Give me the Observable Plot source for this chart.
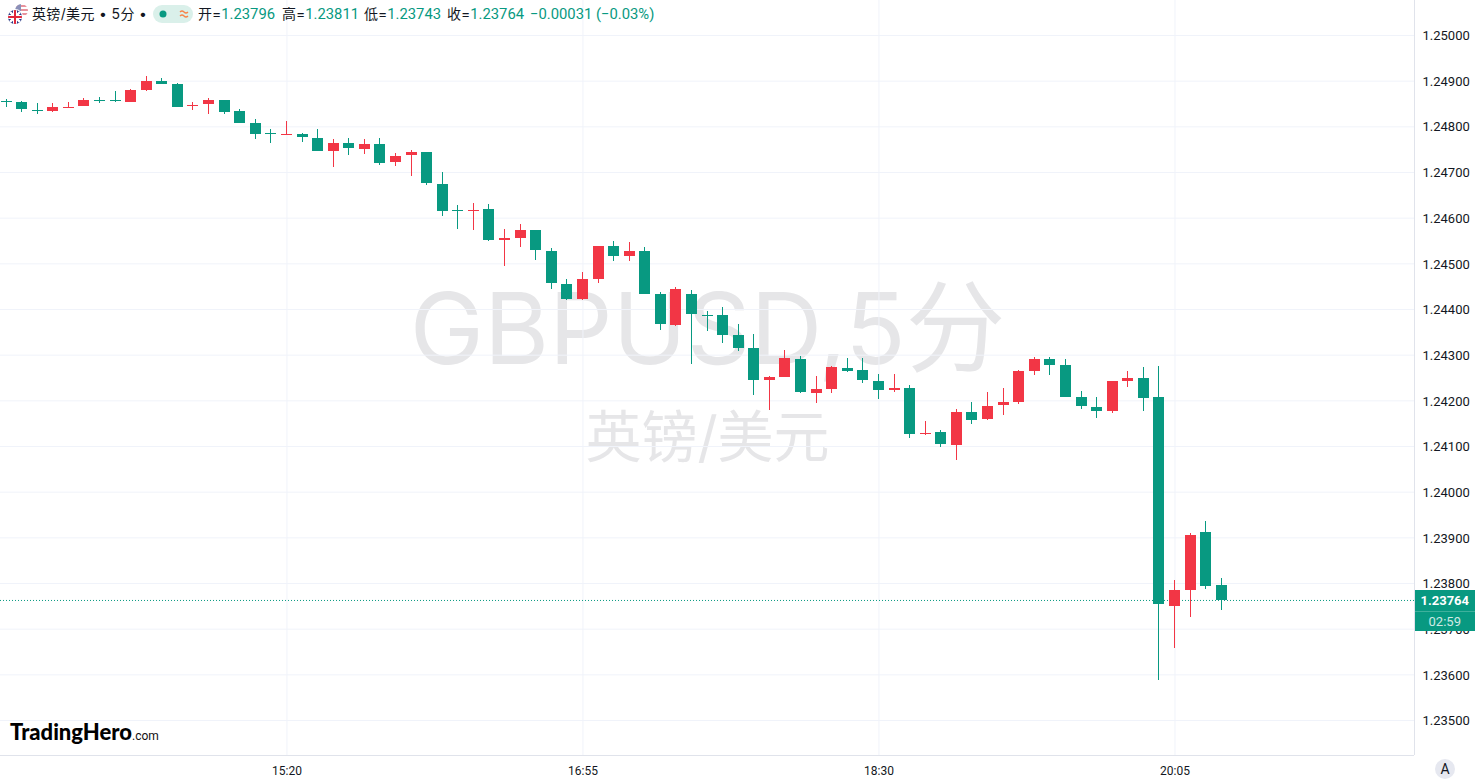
<!DOCTYPE html>
<html><head><meta charset="utf-8">
<script src="https://cdn.jsdelivr.net/npm/d3@7"></script>
<script src="https://cdn.jsdelivr.net/npm/@observablehq/plot@0.6"></script>
<style>
html,body{margin:0;padding:0;background:#fff;overflow:hidden;width:1475px;height:784px}
#wrap{position:relative;width:1475px;height:784px;font-family:Roboto,"Noto Sans CJK SC",sans-serif;color:#131722}
#wrap svg.chart{display:block}
.abs{position:absolute;white-space:nowrap}
.g{color:#089981;font-family:Roboto,sans-serif;font-size:14.8px}
.hd{font-family:Inter,'Noto Sans CJK SC',sans-serif;font-size:14px;line-height:18px;top:5px}
</style></head><body>
<div id="wrap"></div>
<script>
// prices in 1e-5 units, 5-minute bars from 13:50
const opens = [124856,124855,124836,124835,124843,124846,124858,124858,124855,124881,124901,124894,124847,124850,124859,124835,124809,124785,124784,124785,
124776,124747,124765,124752,124763,124723,124739,124745,124675,124617,124617,124620,124552,124557,124574,124528,124456,124423,124467,124539,
124517,124528,124434,124366,124434,124387,124388,124344,124316,124246,124252,124292,124217,124226,124272,124268,124244,124224,124228,124129,
124132,124103,124176,124160,124191,124198,124266,124292,124279,124209,124187,124178,124244,124250,124209,123751,123786,123913,123796];
const highs = [124861,124857,124852,124852,124855,124863,124866,124879,124883,124912,124907,124896,124855,124863,124859,124839,124817,124796,124813,124787,
124796,124774,124776,124774,124776,124743,124750,124745,124701,124629,124633,124631,124577,124587,124574,124535,124467,124482,124539,124550,
124548,124537,124439,124450,124443,124397,124406,124368,124347,124255,124312,124298,124255,124276,124294,124294,124259,124259,124235,124156,
124136,124182,124198,124220,124228,124268,124296,124296,124292,124222,124209,124244,124266,124274,124276,123808,123911,123937,123811];
const lows = [124844,124833,124828,124833,124842,124846,124852,124855,124855,124879,124894,124844,124837,124828,124828,124809,124774,124765,124782,124767,
124747,124712,124739,124741,124717,124714,124693,124673,124605,124577,124574,124550,124496,124537,124509,124445,124421,124421,124458,124506,
124506,124434,124355,124364,124281,124353,124327,124309,124213,124180,124252,124217,124195,124217,124263,124239,124204,124220,124119,124125,
124099,124071,124149,124158,124169,124193,124257,124257,124209,124182,124163,124174,124231,124178,123589,123659,123727,123788,123743];
const closes = [124856,124839,124836,124844,124843,124859,124858,124858,124881,124901,124894,124844,124847,124859,124833,124809,124785,124785,124784,124778,
124747,124765,124754,124763,124721,124736,124745,124677,124616,124617,124617,124552,124557,124574,124531,124458,124423,124467,124539,124517,
124528,124434,124368,124445,124390,124387,124344,124316,124246,124252,124294,124220,124226,124274,124266,124246,124224,124228,124128,124129,
124106,124176,124158,124189,124198,124266,124292,124279,124209,124189,124178,124244,124250,124206,123755,123786,123906,123795,123764];
const reds = [3,4,5,8,9,12,13,18,21,23,25,26,30,32,33,37,38,40,43,49,50,52,53,57,59,61,63,64,65,66,71,72,75,76];
const yTicks = [1.235,1.236,1.237,1.238,1.239,1.24,1.241,1.242,1.243,1.244,1.245,1.246,1.247,1.248,1.249,1.25];
const xTicks = [920,1015,1110,1205];
const xLabels = ["15:20","16:55","18:30","20:05"];
const lastPrice = 1.23764;
const startMinute = 830, barMinutes = 5;
const candles = opens.map((o,i)=>({t:startMinute+i*barMinutes,open:o/1e5,high:highs[i]/1e5,low:lows[i]/1e5,close:closes[i]/1e5,up:reds.includes(i)}));
const UP="#f23645", DOWN="#089981", GRID="#f0f3fa", LINE="#e0e3eb";
const xMax=1281.87, halfBody=1.765;
const chart = Plot.plot({
  width:1475,height:784,marginLeft:0,marginRight:61,marginTop:0,marginBottom:29,
  style:{background:"transparent",fontFamily:"Roboto,'Noto Sans CJK SC',sans-serif",overflow:"visible"},
  x:{type:"linear",domain:[828.07,xMax]},
  y:{type:"linear",domain:[1.234245,1.250777]},
  marks:[
    Plot.text(["GBPUSD,5分"],{frameAnchor:"middle",dy:-46,fontSize:99.5,fill:"#e6e6e8",fontFamily:"Inter,'Noto Sans CJK SC',sans-serif"}),
    Plot.text(["英镑/美元"],{frameAnchor:"middle",dy:61,fontSize:56,fill:"#e6e6e8",fontFamily:"Inter,'Noto Sans CJK SC',sans-serif"}),
    Plot.ruleY(yTicks,{stroke:GRID,dy:-0.5}),
    Plot.ruleX(xTicks,{stroke:GRID}),
    Plot.ruleY([lastPrice],{stroke:DOWN,strokeDasharray:"1,2"}),
    Plot.ruleX(candles,{x:"t",y1:"low",y2:"high",stroke:d=>d.up?UP:DOWN,strokeWidth:1,shapeRendering:"crispEdges",dx:-0.5}),
    Plot.rect(candles.filter(d=>d.open!==d.close),{x1:d=>d.t-halfBody,x2:d=>d.t+halfBody,y1:"open",y2:"close",fill:d=>d.up?UP:DOWN,shapeRendering:"crispEdges"}),
    Plot.rect(candles.filter(d=>d.open===d.close),{x1:d=>d.t-halfBody,x2:d=>d.t+halfBody,y1:"open",y2:"close",fill:d=>d.up?UP:DOWN,insetTop:-0.5,insetBottom:-0.5,shapeRendering:"crispEdges"}),
    Plot.ruleX([xMax],{stroke:LINE}),
    Plot.ruleY([1.234245],{stroke:LINE}),
    Plot.axisY(yTicks,{anchor:"right",tickSize:0,tickPadding:8,label:null,fontSize:13,fill:"#131722",tickFormat:d=>d.toFixed(5)}),
    Plot.axisX(xTicks,{anchor:"bottom",tickSize:0,tickPadding:11,label:null,fontSize:12,fill:"#131722",tickFormat:d=>xLabels[xTicks.indexOf(d)]})
  ]
});
chart.setAttribute("class",(chart.getAttribute("class")||"")+" chart");
const wrap=document.getElementById("wrap");
wrap.appendChild(chart);
function add(html,css,cls){const e=document.createElement("div");e.className="abs"+(cls?" "+cls:"");e.style.cssText=css;e.innerHTML=html;wrap.appendChild(e);return e;}
// header
add(`<svg width="20" height="21" viewBox="0 0 20 21"><defs><clipPath id="a"><circle cx="13.5" cy="6.5" r="6.5"/></clipPath><clipPath id="b"><circle cx="7" cy="13" r="7"/></clipPath></defs>
<g clip-path="url(#a)"><rect x="6" y="0" width="14" height="14" fill="#fff"/><rect x="6" y="1" width="14" height="2" fill="#e8929c"/><rect x="6" y="5" width="14" height="2" fill="#e8929c"/><rect x="6" y="9" width="14" height="2" fill="#e8929c"/><rect x="6" y="0" width="7" height="7" fill="#8a90b8"/></g>
<circle cx="7" cy="13" r="8" fill="#fff"/>
<g clip-path="url(#b)"><rect x="0" y="6" width="14" height="14" fill="#2b3a86"/><path d="M0 6L14 20M14 6L0 20" stroke="#fff" stroke-width="2.4"/><path d="M7 6V20M0 13H14" stroke="#fff" stroke-width="4"/><path d="M7 6V20M0 13H14" stroke="#e0283c" stroke-width="2"/></g></svg>`,"left:8px;top:4px;");
add(`英镑/美元 • 5分 •`,"left:32px;letter-spacing:0.35px;","hd");
add(`<svg width="40" height="18" viewBox="0 0 40 18"><rect x="0" y="0" width="40" height="18" rx="9" fill="#daf0ea"/><circle cx="10" cy="9" r="3.5" fill="#089981"/><path d="M27 7q2-2 4 0t4 0M27 11q2-2 4 0t4 0" fill="none" stroke="#f7844a" stroke-width="1.3"/></svg>`,"left:153px;top:5px;");
add(`开=<span class="g">1.23796</span>`,"left:198px;","hd");
add(`高=<span class="g">1.23811</span>`,"left:282px;","hd");
add(`低=<span class="g">1.23743</span>`,"left:364px;","hd");
add(`收=<span class="g">1.23764</span>`,"left:447px;","hd");
add(`<span class="g">−0.00031 (−0.03%)</span>`,"left:530px;","hd");
// last price tag
add(`1.23764`,"left:1414.5px;top:590px;width:60.5px;height:21px;background:#089981;color:#fff;font-size:13px;font-weight:700;line-height:21px;text-align:center;");
add(`02:59`,"left:1414.5px;top:611px;width:60.5px;height:20px;background:#089981;color:#cfeae4;font-size:13px;line-height:20px;text-align:center;border-top:1px solid #3fb09c;box-sizing:border-box;");
// logo
add(`<span style="font-family:Lato,sans-serif;font-weight:900;font-size:22px;color:#000">TradingHero</span><span style="font-size:12px;color:#111">.com</span>`,"left:10px;top:718px;");
// auto badge
add(`A`,"left:1435px;top:759px;width:20px;height:20px;border-radius:50%;background:#e6e8f0;font-size:14px;line-height:20px;text-align:center;color:#131722;");
</script></body></html>
